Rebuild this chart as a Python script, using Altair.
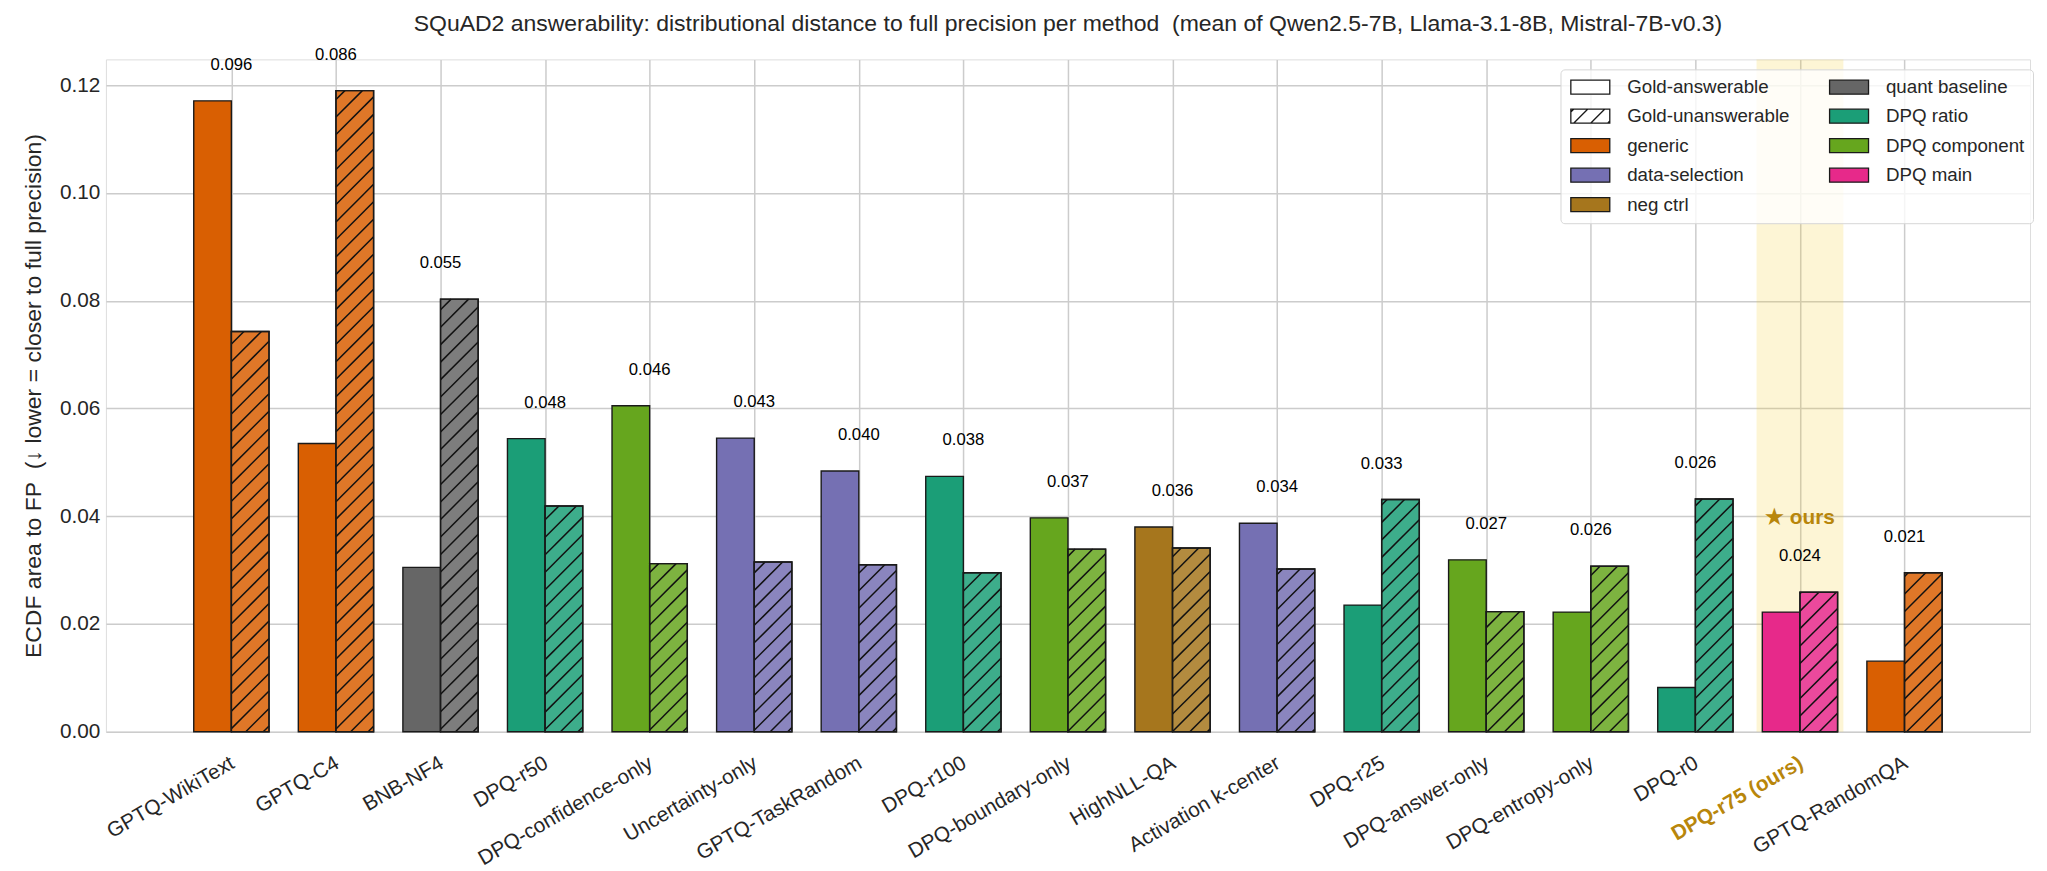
import math
import altair as alt
import pandas as pd

# ---------------- data ----------------
methods = ["GPTQ-WikiText", "GPTQ-C4", "BNB-NF4", "DPQ-r50", "DPQ-confidence-only",
           "Uncertainty-only", "GPTQ-TaskRandom", "DPQ-r100", "DPQ-boundary-only",
           "HighNLL-QA", "Activation k-center", "DPQ-r25", "DPQ-answer-only",
           "DPQ-entropy-only", "DPQ-r0", "DPQ-r75 (ours)", "GPTQ-RandomQA"]
groups = ["generic", "generic", "quant baseline", "DPQ ratio", "DPQ component",
          "data-selection", "data-selection", "DPQ ratio", "DPQ component",
          "neg ctrl", "data-selection", "DPQ ratio", "DPQ component",
          "DPQ component", "DPQ ratio", "DPQ main", "generic"]
answerable = [0.1171, 0.0535, 0.0305, 0.0544, 0.0605, 0.0545, 0.0484, 0.0474, 0.0397,
              0.0380, 0.0387, 0.0235, 0.0319, 0.0222, 0.0082, 0.0222, 0.0131]
unanswerable = [0.0743, 0.1190, 0.0803, 0.0419, 0.0312, 0.0315, 0.0310, 0.0295, 0.0339,
                0.0341, 0.0302, 0.0431, 0.0223, 0.0307, 0.0432, 0.0259, 0.0295]

group_names = ["generic", "data-selection", "neg ctrl", "quant baseline",
               "DPQ ratio", "DPQ component", "DPQ main"]
group_hex = ["#d95f02", "#7570b3", "#a6761d", "#666666", "#1b9e77", "#66a61e", "#e7298a"]

TITLE = ("SQuAD2 answerability: distributional distance to full precision per method\u00a0 "
         "(mean of Qwen2.5-7B, Llama-3.1-8B, Mistral-7B-v0.3)")
YTITLE = "ECDF area to FP\u00a0 (\u2193 lower = closer to full precision)"
OURS_TEXT = "\u2605 ours"

# ---------------- style ----------------
FONT = "Liberation Sans"
GOLD = "#b8860b"
TXT = "#262626"
GRID = "#cccccc"
EDGE = "#1a1a1a"
W, H = 1926, 673
XMIN, XMAX = -1.2, 17.2
YMIN, YMAX = 0.0, 0.1248
BW = 0.36
HATCH_PX = 17.5

color_of = dict(zip(group_names, group_hex))


def lighten(hx, a=0.85):
    r, g, b = (int(hx[i:i + 2], 16) for i in (1, 3, 5))
    f = lambda c: int(round(a * c + (1 - a) * 255))
    return "#%02x%02x%02x" % (f(r), f(g), f(b))


ours_idx = next(i for i, g in enumerate(groups) if g == "DPQ main")

# bars
rows = []
for i, (m, g, a, u) in enumerate(zip(methods, groups, answerable, unanswerable)):
    rows.append(dict(method=m, x0=i - BW, x1=i, y=a, fill=color_of[g], hatched=False))
    rows.append(dict(method=m, x0=i, x1=i + BW, y=u, fill=lighten(color_of[g]), hatched=True))
bars = pd.DataFrame(rows)

# hatch segments ("/" at 45 degrees in pixel space), derived from the hatched bars
kx = W / (XMAX - XMIN)
ky = H / (YMAX - YMIN)
segs = []
for _, r in bars[bars.hatched].iterrows():
    X0 = (r.x0 - XMIN) * kx
    X1 = (r.x1 - XMIN) * kx
    Yh = r.y * ky
    k0 = math.ceil((X0 - Yh) / HATCH_PX)
    k1 = math.floor(X1 / HATCH_PX)
    for k in range(k0, k1 + 1):
        c = k * HATCH_PX
        xs_ = max(X0, c)
        xe = min(X1, c + Yh)
        if xe - xs_ > 0.5:
            segs.append(dict(hx=xs_ / kx + XMIN, hy=(xs_ - c) / ky,
                             hx2=xe / kx + XMIN, hy2=(xe - c) / ky))
hatch = pd.DataFrame(segs)

# mean labels
lab = pd.DataFrame(dict(xc=list(range(len(methods))),
                        mean=[(a + u) / 2 for a, u in zip(answerable, unanswerable)],
                        top=[max(a, u) for a, u in zip(answerable, unanswerable)]))
lab["txt"] = lab["mean"].map(lambda v: f"{v:.3f}")
lab["ly"] = lab["top"] + 0.005

ours = pd.DataFrame(dict(xc=[ours_idx], ly=[lab["top"][ours_idx] + 0.0138], txt=[OURS_TEXT]))
band = pd.DataFrame(dict(b0=[ours_idx - 0.415], b1=[ours_idx + 0.415]))

# legend entries (column-major, as in the reference)
legend_keys = ["Gold-answerable", "Gold-unanswerable", "generic", "data-selection", "neg ctrl",
               "quant baseline", "DPQ ratio", "DPQ component", "DPQ main"]
legend_fill = ["#ffffff" if k.startswith("Gold") else color_of[k] for k in legend_keys]
RECT = "M-1,-1H4.57V1H-1Z"
HRECT = (RECT + "M-0.6,1L1.4,-1M1.83,1L3.83,-1M4.26,1L4.57,0.69M-1,-0.6L-0.6,-1")
legend_shape = [HRECT if k == "Gold-unanswerable" else RECT for k in legend_keys]
leg_df = pd.DataFrame(dict(key=legend_keys, k=[0.0] * len(legend_keys), k2=[0.0] * len(legend_keys)))

# ---------------- chart ----------------
xs = alt.Scale(domain=[XMIN, XMAX], nice=False, zero=False)
ys = alt.Scale(domain=[YMIN, YMAX], nice=False, zero=False)

label_array = "[" + ",".join("'" + m + "'" for m in methods) + "]"

x_axis = alt.Axis(values=list(range(len(methods))), labelExpr=f"{label_array}[datum.value]",
                  labelAngle=-30, labelAlign="right", labelBaseline="top",
                  labelPadding=21, labelOffset=-4, labelFontSize=20.8, labelFont=FONT,
                  labelLimit=600,
                  labelColor={"condition": {"test": f"datum.value == {ours_idx}", "value": GOLD},
                              "value": TXT},
                  labelFontWeight={"condition": {"test": f"datum.value == {ours_idx}", "value": "bold"},
                                   "value": "normal"},
                  grid=True, gridColor=GRID, gridWidth=1.5, ticks=False, domain=False,
                  title=None, labelOverlap=False, labelBound=False, labelFlush=False)
y_axis = alt.Axis(values=[0.0, 0.02, 0.04, 0.06, 0.08, 0.10, 0.12], format=".2f",
                  labelFontSize=20.8, labelFont=FONT, labelColor=TXT, labelPadding=6,
                  grid=True, gridColor=GRID, gridWidth=1.5, ticks=False, domain=False,
                  title=YTITLE, titleFont=FONT, titleFontSize=23, titleFontWeight="normal",
                  titleColor=TXT, titlePadding=14, labelOverlap=False, labelFlush=False)


def X(field):
    return alt.X(field, scale=xs, axis=x_axis)


def Y(field):
    return alt.Y(field, scale=ys, axis=y_axis)


band_layer = alt.Chart(band).mark_rect(color="#f5c518", opacity=0.18).encode(
    x=X("b0:Q"), x2="b1:Q", y=alt.value(0), y2=alt.value(H))

bar_layer = alt.Chart(bars).mark_rect(stroke=EDGE, strokeWidth=1.4).encode(
    x=X("x0:Q"), x2="x1:Q", y=Y("y:Q"), y2=alt.datum(0),
    fill=alt.Fill("fill:N", scale=None))

hatch_layer = alt.Chart(hatch).mark_rule(color="#111111", strokeWidth=1.5, strokeCap="butt").encode(
    x=X("hx:Q"), x2="hx2:Q", y=Y("hy:Q"), y2="hy2:Q")

outline_layer = alt.Chart(bars).transform_filter("datum.hatched").mark_rect(
    fillOpacity=0, stroke=EDGE, strokeWidth=1.4).encode(
    x=X("x0:Q"), x2="x1:Q", y=Y("y:Q"), y2=alt.datum(0))

text_layer = alt.Chart(lab).mark_text(baseline="bottom", align="center", fontSize=16.7,
                                      font=FONT, color="black").encode(
    x=X("xc:Q"), y=Y("ly:Q"), text="txt:N")

ours_layer = alt.Chart(ours).mark_text(baseline="middle", align="center", fontSize=20.8,
                                       font=FONT, fontWeight="bold", color=GOLD).encode(
    x=X("xc:Q"), y=Y("ly:Q"), text="txt:N")

leg = alt.Legend(title=None, orient="none", legendX=1456, legendY=10, columns=2,
                 columnPadding=36, rowPadding=8.5, padding=8, labelFont=FONT,
                 labelFontSize=18.75, labelLimit=400, labelColor=TXT, labelOffset=40,
                 symbolSize=196, symbolStrokeColor=EDGE, symbolStrokeWidth=1.3,
                 symbolOpacity=1, fillColor="rgba(255,255,255,0.8)", strokeColor="#d6d6d6",
                 cornerRadius=4)

legend_layer = alt.Chart(leg_df).transform_filter("datum.key == 'none'").mark_point(
    filled=True, size=196, opacity=1, stroke=EDGE, strokeWidth=1.3).encode(
    x=X("k:Q"), y=Y("k2:Q"),
    fill=alt.Fill("key:N", scale=alt.Scale(domain=legend_keys, range=legend_fill), legend=leg),
    shape=alt.Shape("key:N", scale=alt.Scale(domain=legend_keys, range=legend_shape), legend=leg))

chart = alt.layer(band_layer, bar_layer, hatch_layer, outline_layer, text_layer, ours_layer,
                  legend_layer).properties(
    width=W, height=H,
    title=alt.TitleParams(TITLE, font=FONT, fontSize=23, fontWeight="normal", color=TXT,
                          offset=11, anchor="middle"),
    padding={"left": 14, "top": 4, "right": 5, "bottom": 5},
).configure_view(stroke=GRID, strokeWidth=2).configure(background="white")

chart.save("out.html", embed_options={"renderer": "svg", "actions": False})
